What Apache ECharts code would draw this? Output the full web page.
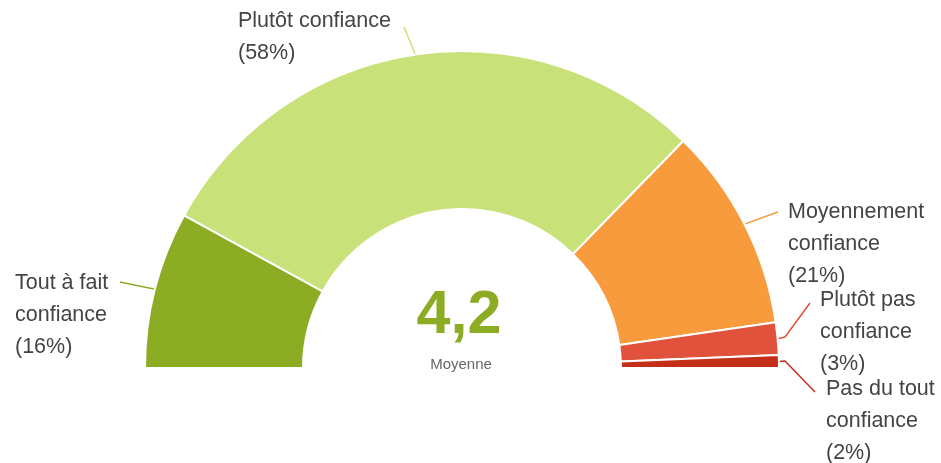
<!DOCTYPE html>
<html>
<head>
<meta charset="utf-8">
<script src="https://cdn.jsdelivr.net/npm/echarts@6/dist/echarts.min.js"></script>
<style>
html,body{margin:0;padding:0;background:#fff;}
#c{width:941px;height:463px;}
</style>
</head>
<body>
<div id="c"></div>
<script>
var categories = ['Tout à fait confiance', 'Plutôt confiance', 'Moyennement confiance', 'Plutôt pas confiance', 'Pas du tout confiance'];
var labelLines = [['Tout à fait', 'confiance'], ['Plutôt confiance'], ['Moyennement', 'confiance'], ['Plutôt pas', 'confiance'], ['Pas du tout', 'confiance']];
var values = [16, 58.6, 20.8, 3.3, 1.3];
var percentLabels = ['16%', '58%', '21%', '3%', '2%'];
var colors = ['#8bac23', '#c8e178', '#f89b3d', '#e0523b', '#c42f18'];
var averageText = '4,2';
var averageLabel = 'Moyenne';

// label box placement (top-left) and guide-line shape, per slice
var labelPos = [
  {x: 15, y: 267},
  {x: 238, y: 5},
  {x: 788, y: 196},
  {x: 820, y: 284},
  {x: 826, y: 373}
];
var guideEnds = [
  [[120, 282]],
  [[404, 27]],
  [[778, 212]],
  [[785, 337], [810, 303]],
  [[785, 361], [815, 392]]
];

var chart = echarts.init(document.getElementById('c'), null, {renderer: 'canvas'});
var data = categories.map(function (c, i) {
  return {
    name: c,
    value: values[i],
    itemStyle: {color: colors[i]},
    label: {formatter: labelLines[i].join('\n') + '\n(' + percentLabels[i] + ')'},
    labelLine: {lineStyle: {color: colors[i], width: 1.5}}
  };
});

chart.setOption({
  animation: false,
  series: [{
    type: 'pie',
    center: [462, 368],
    radius: [159, 317],
    startAngle: 180,
    endAngle: 0,
    clockwise: true,
    data: data,
    itemStyle: {borderColor: '#fff', borderWidth: 2},
    label: {
      show: true,
      position: 'outside',
      color: '#444',
      fontSize: 21.5,
      lineHeight: 32,
      fontFamily: 'Liberation Sans, Arial, sans-serif'
    },
    labelLine: {show: true, length: 10, length2: 10, smooth: false},
    labelLayout: function (p) {
      var pos = labelPos[p.dataIndex];
      var anchor = p.labelLinePoints ? p.labelLinePoints[0] : null;
      var res = {x: pos.x, y: pos.y, align: 'left', verticalAlign: 'top'};
      if (anchor) {
        res.labelLinePoints = [anchor].concat(guideEnds[p.dataIndex]);
        if (res.labelLinePoints.length === 2) {
          res.labelLinePoints.push(guideEnds[p.dataIndex][0]);
        }
      }
      return res;
    }
  }],
  graphic: [
    {
      type: 'text',
      style: {
        text: averageText,
        fill: '#8bac23',
        font: 'bold 61px "Liberation Sans", Arial, sans-serif',
        textAlign: 'center',
        textVerticalAlign: 'middle'
      },
      x: 459, y: 316
    },
    {
      type: 'text',
      style: {
        text: averageLabel,
        fill: '#666',
        font: '15px "Liberation Sans", Arial, sans-serif',
        textAlign: 'center',
        textVerticalAlign: 'middle'
      },
      x: 461, y: 365
    }
  ]
});
</script>
</body>
</html>
